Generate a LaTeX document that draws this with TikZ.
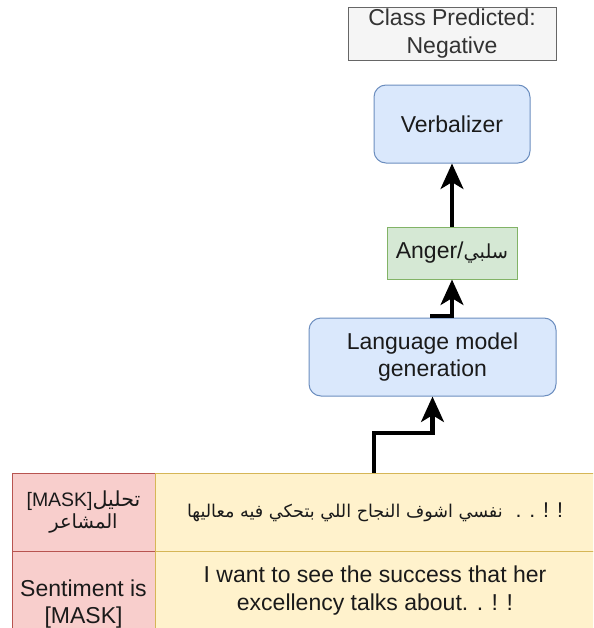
\documentclass[tikz,border=0pt]{standalone}
\usepackage{fontspec}
\setmainfont{Liberation Sans}
\newfontfamily\arabicfont[Script=Arabic]{DejaVu Sans}
\TeXXeTstate=1
\usetikzlibrary{arrows.meta}
\definecolor{greyfill}{HTML}{F5F5F5}
\definecolor{greyline}{HTML}{666666}
\definecolor{greytext}{HTML}{333333}
\definecolor{bluefill}{HTML}{DAE8FC}
\definecolor{blueline}{HTML}{6C8EBF}
\definecolor{greenfill}{HTML}{D5E8D4}
\definecolor{greenline}{HTML}{82B366}
\definecolor{redfill}{HTML}{F8CECC}
\definecolor{redline}{HTML}{B85450}
\definecolor{yelfill}{HTML}{FFF2CC}
\definecolor{yelline}{HTML}{D6B656}
\definecolor{ink}{HTML}{1A1A1A}
\begin{document}
\begin{tikzpicture}[x=0.75pt,y=-0.75pt,
  every node/.style={font=\fontsize{17.25}{20.5}\selectfont, text=ink, align=center, inner sep=0pt, line width=0.75pt},
  sz/.style 2 args={minimum width=#1*0.75pt, minimum height=#2*0.75pt},
  greybox/.style={draw=greyline, fill=greyfill, text=greytext},
  bluebox/.style={draw=blueline, fill=bluefill, rounded corners=9pt},
  greenbox/.style={draw=greenline, fill=greenfill},
  redcell/.style={draw=redline, fill=redfill},
  yelcell/.style={draw=yelline, fill=yelfill},
  flow/.style={line width=3.5pt, draw=black, -{Stealth[length=19pt,width=17pt,inset=5pt]}}
]
\useasboundingbox (0,0) rectangle (593,628);
\clip (0,0) rectangle (593,628);

\node[greybox, sz={208}{53}] (cls) at (452,33.5) {Class Predicted:\\Negative};
\node[bluebox, sz={156}{78}] (verb) at (452,124) {Verbalizer};
\node[greenbox, sz={130}{52}] (anger) at (452,253) {Anger/{\arabicfont\fontsize{14.5}{17}\selectfont\beginR سلبي\endR}};
\node[bluebox, sz={247}{78}] (lm) at (432.5,357) {Language model\\generation};

\node[redcell, sz={143}{78}, font=\fontsize{14.6}{17}\selectfont] (r1) at (83.5,512)
  {[MASK]{\arabicfont\fontsize{15.5}{17}\selectfont\beginR تحليل\endR}\\{\arabicfont\beginR المشاعر\endR}};
\node[yelcell, sz={440}{78}] (y1) at (375,512)
  {\raisebox{-3pt}{\arabicfont\fontsize{13.2}{16}\selectfont\beginR نفسي اشوف النجاح اللي بتحكي فيه معاليها\endR}\ \ \raisebox{-3pt}{\fontsize{16}{18}\selectfont. . ! !}};
\node[redcell, sz={143}{106}] (r2) at (83.5,604) {Sentiment is\\{[MASK]}};
\node[yelcell, sz={440}{79}] (y2) at (375,590.5) {I want to see the success that her\\excellency talks about. . ! !};

\coordinate (bend) at (432.5,433);
\coordinate (jog) at (452,316);
\draw[flow] (y1.north -| 374,0) |- (bend) -- (lm.south);
\draw[flow] (lm.north) |- (jog) -- (anger.south);
\draw[flow] (anger.north) -- (verb.south);
\end{tikzpicture}
\end{document}
